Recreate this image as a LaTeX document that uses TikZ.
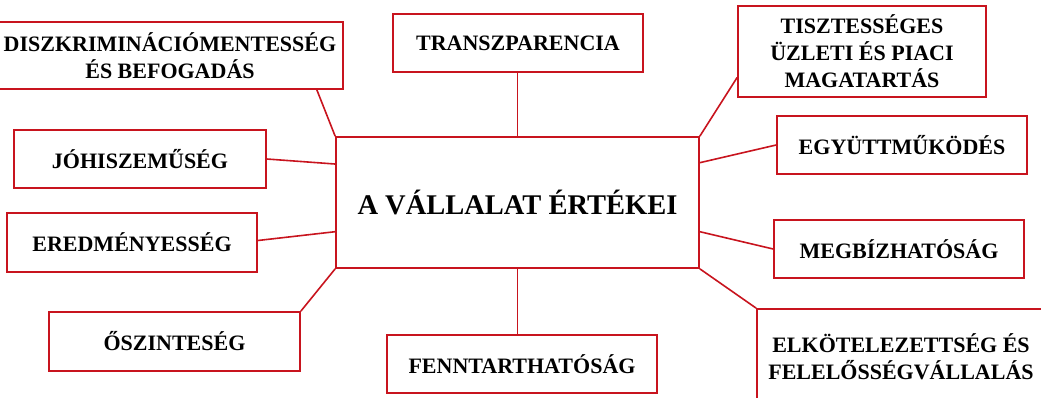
\documentclass[tikz,border=0pt]{standalone}
\usepackage{fontspec}
\setmainfont{Liberation Serif}
\usetikzlibrary{calc}
\definecolor{redline}{RGB}{200,20,30}
\tikzset{
  valbox/.style={draw=redline, line width=1.7pt, fill=white, align=center, inner sep=0pt,
    font=\fontsize{22}{27}\selectfont\bfseries, text=black},
  conn/.style={draw=redline, line width=1.6pt}
}
\begin{document}
\begin{tikzpicture}[x=1pt,y=-1pt]
\useasboundingbox (0,0) rectangle (1041,397);
% central box
\node[valbox, minimum width=363pt, minimum height=131pt, font=\fontsize{28.5}{34}\selectfont\bfseries] (c) at (517.5,202.5) {A VÁLLALAT ÉRTÉKEI};
% surrounding boxes
\node[valbox, minimum width=346pt, minimum height=67pt] (disz) at (170,55.5) {DISZKRIMINÁCIÓMENTESSÉG\\ÉS BEFOGADÁS};
\node[valbox, minimum width=250pt, minimum height=58pt] (transz) at (518,43) {TRANSZPARENCIA};
\node[valbox, minimum width=248pt, minimum height=91pt] (tiszt) at (862,51.5) {TISZTESSÉGES\\ÜZLETI ÉS PIACI\\MAGATARTÁS};
\node[valbox, minimum width=252pt, minimum height=58pt] (joh) at (140,159) {JÓHISZEMŰSÉG};
\node[valbox, minimum width=250pt, minimum height=58pt] (egyutt) at (902,145) {EGYÜTTMŰKÖDÉS};
\node[valbox, minimum width=250pt, minimum height=59pt] (ered) at (132,242.5) {EREDMÉNYESSÉG};
\node[valbox, minimum width=250pt, minimum height=58pt] (megb) at (899,249) {MEGBÍZHATÓSÁG};
\node[valbox, minimum width=251pt, minimum height=59pt] (osz) at (174.5,341.5) {ŐSZINTESÉG};
\node[valbox, minimum width=270pt, minimum height=58pt] (fenn) at (522,364) {FENNTARTHATÓSÁG};
\node[valbox, minimum width=288pt, minimum height=96pt] (elk) at (901,357) {ELKÖTELEZETTSÉG ÉS\\FELELŐSSÉGVÁLLALÁS};
% connectors
\draw[conn] ($(disz.south east)+(-27,0)$) -- (c.north west);
\draw[conn] (c.north) -- (c.north |- transz.south);
\draw[conn] (c.north east) -- ($(tiszt.south west)!0.22!(tiszt.north west)$);
\draw[conn] (joh.east) -- ($(c.north west)!0.21!(c.south west)$);
\draw[conn] ($(c.north east)!0.2!(c.south east)$) -- (egyutt.west);
\draw[conn] ($(ered.east)+(0,-2)$) -- ($(c.north west)!0.72!(c.south west)$);
\draw[conn] ($(c.north east)!0.72!(c.south east)$) -- (megb.west);
\draw[conn] (osz.north east) -- (c.south west);
\draw[conn] (c.south) -- (c.south |- fenn.north);
\draw[conn] (c.south east) -- (elk.north west);
\end{tikzpicture}
\end{document}
